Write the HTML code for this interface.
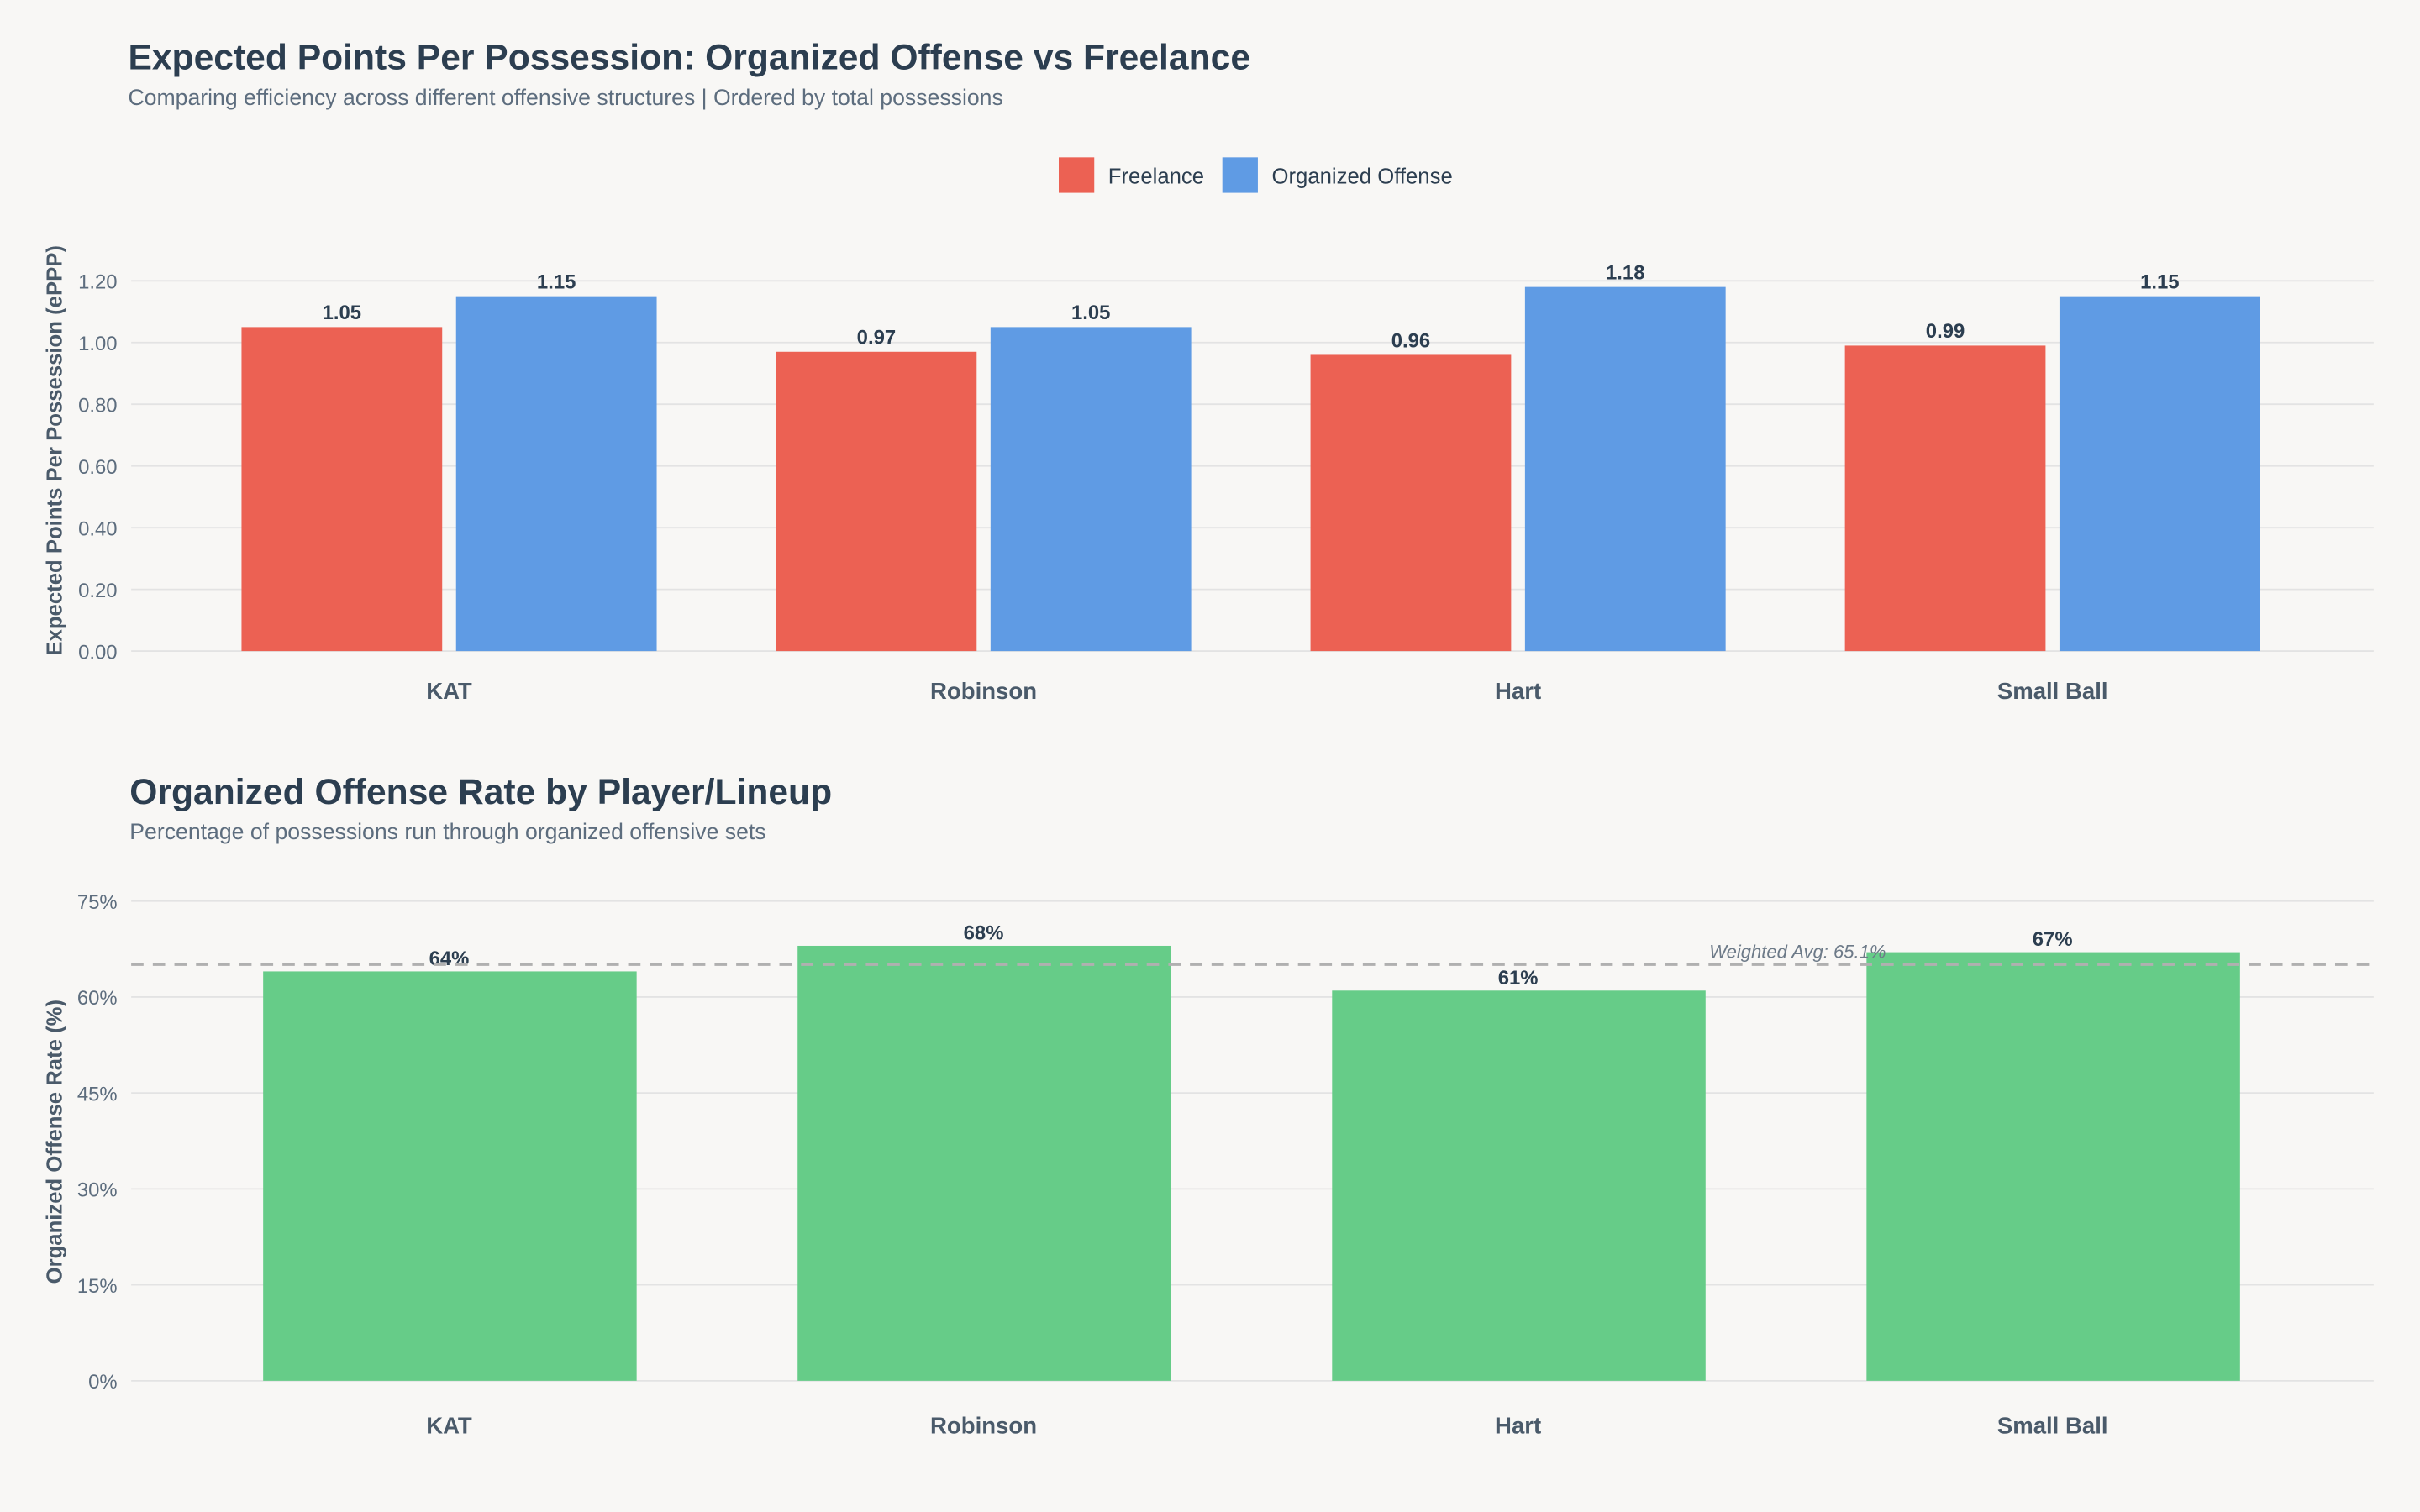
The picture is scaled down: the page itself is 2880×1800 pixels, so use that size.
<!DOCTYPE html>
<html><head><meta charset="utf-8"><style>
html,body{margin:0;padding:0;background:#f8f7f5;}
svg{display:block;font-family:"Liberation Sans",Arial,sans-serif;}
</style></head><body>
<svg id="chart" width="2880" height="1800" viewBox="0 0 1568 980" xmlns="http://www.w3.org/2000/svg">
<rect width="1568" height="980" fill="#f8f7f5"/>
<text x="83" y="45" font-size="23.2" font-weight="bold" fill="#2c3e50">Expected Points Per Possession: Organized Offense vs Freelance</text>
<text x="83" y="68" font-size="14.5" fill="#5d6d7e">Comparing efficiency across different offensive structures | Ordered by total possessions</text>
<g>
<rect x="686" y="102" width="23" height="23" fill="#ec6153"/>
<text x="718" y="119" font-size="14" fill="#2c3e50">Freelance</text>
<rect x="792" y="102" width="23" height="23" fill="#5f9be4"/>
<text x="824" y="119" font-size="14" fill="#2c3e50">Organized Offense</text>
</g>
<g id="topchart"></g>
<text x="84" y="521" font-size="23.2" font-weight="bold" fill="#2c3e50">Organized Offense Rate by Player/Lineup</text>
<text x="84" y="544" font-size="14.5" fill="#5d6d7e">Percentage of possessions run through organized offensive sets</text>
<g id="botchart"></g>
</svg>
<script>
const categories = ["KAT","Robinson","Hart","Small Ball"];
const freelance = [1.05,0.97,0.96,0.99];
const organized = [1.15,1.05,1.18,1.15];
const eppTicks = [0,0.2,0.4,0.6,0.8,1.0,1.2];
const orgRate = [64,68,61,67];
const rateTicks = [0,15,30,45,60,75];
const weightedAvg = 65.1;

const NS="http://www.w3.org/2000/svg";
function mk(parent,tag,attrs,text){const e=document.createElementNS(NS,tag);for(const k in attrs)e.setAttribute(k,attrs[k]);if(text!==undefined)e.textContent=text;parent.appendChild(e);return e;}
const cx=i=>291+346.3*i;

// top chart
const topG=document.getElementById('topchart');
const y1=v=>422-v*200;
eppTicks.forEach(t=>{
  const l=mk(topG,'line',{x1:85,x2:1538,y1:y1(t),y2:y1(t),stroke:'#e3e3e3','stroke-width':1});
  
  
  const tx=mk(topG,'text',{x:76,y:y1(t)+5,'font-size':13,fill:'#5d6d7e','text-anchor':'end'},t.toFixed(2));
  
  
});
const yt=mk(topG,'text',{x:0,y:0,'font-size':14,'font-weight':'bold',fill:'#4a5a6a','text-anchor':'middle',transform:'translate(40,292) rotate(-90)'},'Expected Points Per Possession (ePPP)');


categories.forEach((c,i)=>{
  [[freelance[i],-134.5,'#ec6153','bar-freelance'],[organized[i],4.5,'#5f9be4','bar-organized']].forEach(([v,off,col,nm])=>{
    const b=mk(topG,'rect',{x:cx(i)+off,y:y1(v),width:130,height:v*200,fill:col});
    
    
    const t=mk(topG,'text',{x:cx(i)+off+65,y:y1(v)-5,'font-size':13,'font-weight':'bold',fill:'#2c3e50','text-anchor':'middle'},v.toFixed(2));
    
    
  });
  const xl=mk(topG,'text',{x:cx(i),y:453,'font-size':15,'font-weight':'bold',fill:'#4a5a6a','text-anchor':'middle'},c);
  
  
});

// bottom chart
const botG=document.getElementById('botchart');
const y2=v=>895-v*311/75;
rateTicks.forEach(t=>{
  const l=mk(botG,'line',{x1:85,x2:1538,y1:y2(t),y2:y2(t),stroke:'#e3e3e3','stroke-width':1});
  
  
  const tx=mk(botG,'text',{x:76,y:y2(t)+5,'font-size':13,fill:'#5d6d7e','text-anchor':'end'},t+'%');
  
  
});
const yt2=mk(botG,'text',{x:0,y:0,'font-size':14,'font-weight':'bold',fill:'#4a5a6a','text-anchor':'middle',transform:'translate(40,740) rotate(-90)'},'Organized Offense Rate (%)');


categories.forEach((c,i)=>{
  const v=orgRate[i];
  const b=mk(botG,'rect',{x:cx(i)-120.5,y:y2(v),width:242,height:895-y2(v),fill:'#66cc88'});
  
  
  const t=mk(botG,'text',{x:cx(i),y:y2(v)-4,'font-size':13,'font-weight':'bold',fill:'#2c3e50','text-anchor':'middle'},v+'%');
  
  
  const xl=mk(botG,'text',{x:cx(i),y:929,'font-size':15,'font-weight':'bold',fill:'#4a5a6a','text-anchor':'middle'},c);
  
  
});
const al=mk(botG,'line',{x1:85,x2:1538,y1:y2(weightedAvg),y2:y2(weightedAvg),stroke:'#b0b0b0','stroke-width':2,'stroke-dasharray':'8,6'});


const at=mk(botG,'text',{x:1222,y:y2(weightedAvg)-4,'font-size':12,'font-style':'italic',fill:'#6d7a88','text-anchor':'end'},'Weighted Avg: '+weightedAvg.toFixed(1)+'%');


</script>
</body></html>
